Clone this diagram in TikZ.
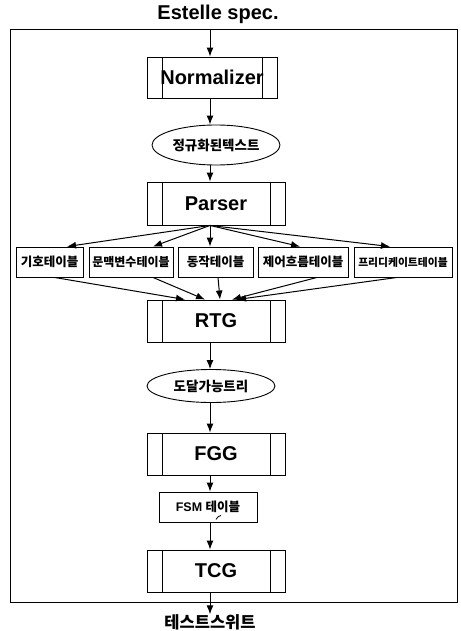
\documentclass[tikz,border=0pt]{standalone}
\usepackage{fontspec}
\setmainfont{Liberation Sans}
\newfontfamily\kr{Noto Sans CJK KR}
\usetikzlibrary{arrows.meta,calc,shapes.geometric}
\newcommand{\krsize}[1]{\kr\bfseries\fontsize{#1}{#1}\selectfont}
\begin{document}
\begin{tikzpicture}[x=1pt,y=-1pt,
  line width=0.9pt,
  arr/.style={-{Latex[length=9pt,width=7pt]}, line width=1pt},
  proc/.style={draw, minimum width=138pt, minimum height=42pt, inner sep=0pt,
    font=\bfseries\fontsize{20}{20}\selectfont,
    path picture={
      \draw[line width=0.9pt] ([xshift=15pt]path picture bounding box.north west) -- ([xshift=15pt]path picture bounding box.south west);
      \draw[line width=0.9pt] ([xshift=-15pt]path picture bounding box.north east) -- ([xshift=-15pt]path picture bounding box.south east);}},
  tbl/.style={draw, minimum height=30pt, inner sep=0pt},
  ell/.style={draw, ellipse, minimum width=128pt, inner sep=0pt, font=\krsize{13.5}},
  lbl/.style={inner sep=0pt}
]
\useasboundingbox (0,0) rectangle (460,631);
% frame
\draw (10,29) rectangle (457,602);
\coordinate (col) at (210,0);
\coordinate (ftop) at (210,29);

% nodes
\node[lbl, font=\bfseries\fontsize{20}{20}\selectfont] (spec) at (218,14) {Estelle spec.};
\node[proc, minimum width=130pt, minimum height=41pt] (norm) at (212,77.5) {Normalizer};
\node[ell, minimum height=40pt] (e1) at (216,145) {정규화된텍스트};
\node[proc, minimum height=43pt] (parser) at (216,203.5) {Parser};

\node[tbl, minimum width=67pt, font=\krsize{12.5}] (t1) at (49.5,262) {기호테이블};
\node[tbl, minimum width=84pt, font=\krsize{12}] (t2) at (131,262) {문맥변수테이블};
\node[tbl, minimum width=75pt, font=\krsize{12.5}] (t3) at (215.5,262) {동작테이블};
\node[tbl, minimum width=90pt, font=\krsize{12.5}] (t4) at (303,262) {제어흐름테이블};
\node[tbl, minimum width=98pt, font=\krsize{10.8}] (t5) at (403,262) {프리디케이트테이블};

\node[proc] (rtg) at (216,321) {RTG};
\node[ell, minimum height=33pt] (e2) at (211,386) {도달가능트리};
\node[proc] (fgg) at (216,454) {FGG};
\node[draw, minimum width=98pt, minimum height=30pt, inner sep=0pt,
      font=\bfseries\fontsize{12.5}{12.5}\selectfont] (fsm) at (208,507) {FSM {\kr 테이블}};
\node[proc] (tcg) at (216,571) {TCG};
\node[lbl, font=\krsize{16.5}] (out) at (210,622.5) {테스트스위트};

% main chain
\draw[arr] (ftop) -- (norm.north -| ftop);
\draw[arr] (norm.south -| col) -- (e1.north -| col);
\draw[arr] (e1.south -| col) -- (parser.north -| col);

% parser to tables
\draw[arr] (parser.south -| col) -- ([xshift=17.5pt]t1.north);
\draw[arr] (parser.south -| col) -- ([xshift=22pt]t2.north);
\draw[arr] (parser.south -| col) -- (t3.north -| col);
\draw[arr] (parser.south -| col) -- ([xshift=-3pt]t4.north);
\draw[arr] (parser.south -| col) -- ([xshift=-13pt]t5.north);

% tables to RTG
\draw[arr] ([xshift=5pt]t1.south) -- ([xshift=-31pt]rtg.north);
\draw[arr] ([xshift=22pt]t2.south) -- ([xshift=-11pt]rtg.north);
\draw[arr] ([xshift=2.5pt]t3.south) -- ([xshift=4pt]rtg.north);
\draw[arr] ([xshift=14pt]t4.south) -- ([xshift=16pt]rtg.north);
\draw[arr] ([xshift=-6pt]t5.south) -- ([xshift=21pt]rtg.north);

\draw[arr] (rtg.south -| col) -- (e2.north -| col);
\draw[arr] (e2.south -| col) -- (fgg.north -| col);
\draw[arr] (fgg.south -| col) -- (fsm.north -| col);
\draw[arr] (fsm.south -| col) -- (tcg.north -| col);
\draw[arr] (tcg.south -| col) -- (out.north -| col);

% small mark on FSM box
\draw[line width=0.8pt] ([xshift=8pt,yshift=3pt]fsm.south) .. controls ([xshift=10pt,yshift=6pt]fsm.south) .. ([xshift=13pt,yshift=7pt]fsm.south);
\end{tikzpicture}
\end{document}
